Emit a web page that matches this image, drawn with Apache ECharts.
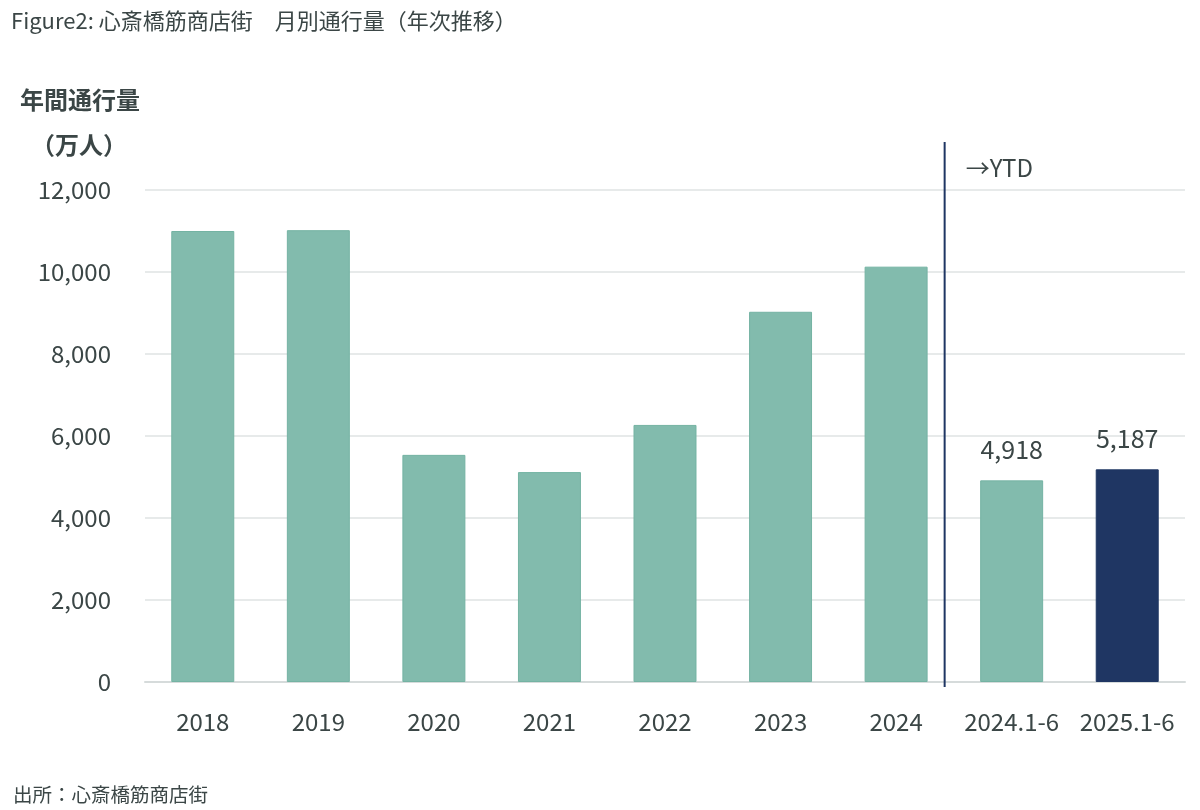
<!DOCTYPE html>
<html>
<head>
<meta charset="utf-8">
<script src="https://cdn.jsdelivr.net/npm/echarts@6/dist/echarts.min.js"></script>
<style>
html,body{margin:0;padding:0;background:#fff;}
#c{width:1200px;height:810px;}
</style>
</head>
<body>
<div id="c"></div>
<script>
const categories = ['2018','2019','2020','2021','2022','2023','2024','2024.1-6','2025.1-6'];
const values = [11000, 11020, 5540, 5120, 6270, 9030, 10130, 4918, 5187];
const labeledIndexes = [7, 8];
const highlightIndex = 8;
const yTicks = { min: 0, max: 12000, interval: 2000 };
const dividerAfterIndex = 6;
const dividerFraction = 0.42;
const dividerLabel = '→YTD';
const titleText = 'Figure2: 心斎橋筋商店街　月別通行量（年次推移）';
const yNameLine1 = '年間通行量';
const yNameLine2 = '（万人）';
const sourceText = '出所：心斎橋筋商店街';

const FONT = '"Noto Sans CJK JP", "Noto Sans", sans-serif';
const TEXT = '#3b4646';
const GREEN = '#82bbad';
const GREEN_BORDER = '#74b3a3';
const NAVY = '#1f3663';

const chart = echarts.init(document.getElementById('c'));

const barData = values.map((v, i) => {
  const item = { value: v };
  if (i === highlightIndex) {
    item.itemStyle = { color: NAVY, borderColor: NAVY };
  }
  if (labeledIndexes.indexOf(i) >= 0) {
    item.label = {
      show: true, position: 'top', distance: 18,
      fontSize: 25, color: TEXT, fontFamily: FONT,
      formatter: p => p.value.toLocaleString('en-US')
    };
  }
  return item;
});

chart.setOption({
  backgroundColor: '#fff',
  animation: false,
  textStyle: { fontFamily: FONT },
  title: [
    { text: titleText, left: 6, top: 5, textStyle: { fontSize: 22, fontWeight: 'normal', color: TEXT, fontFamily: FONT } },
    { text: yNameLine1, left: 15, top: 83, textStyle: { fontSize: 24, fontWeight: 'bold', color: TEXT, fontFamily: FONT } },
    { text: yNameLine2, left: 26, top: 128, textStyle: { fontSize: 24, fontWeight: 'bold', color: TEXT, fontFamily: FONT } },
    { text: sourceText, left: 8, top: 780, textStyle: { fontSize: 19.5, fontWeight: 'normal', color: TEXT, fontFamily: FONT } }
  ],
  grid: { left: 145, right: 15, top: 190, bottom: 128, containLabel: false },
  xAxis: {
    type: 'category',
    data: categories,
    axisLine: { lineStyle: { color: '#d6dbdb', width: 2 } },
    axisTick: { show: false },
    axisLabel: { interval: 0, fontSize: 24, color: TEXT, margin: 28, fontFamily: FONT }
  },
  yAxis: {
    type: 'value',
    min: yTicks.min, max: yTicks.max, interval: yTicks.interval,
    axisLine: { show: false },
    axisTick: { show: false },
    splitLine: { lineStyle: { color: '#dfe3e3', width: 1.5 } },
    axisLabel: { fontSize: 24, color: TEXT, margin: 34, fontFamily: FONT,
      formatter: v => v.toLocaleString('en-US') }
  },
  series: [
    {
      type: 'bar',
      data: barData,
      barWidth: '54.5%',
      itemStyle: { color: GREEN, borderColor: GREEN_BORDER, borderWidth: 1 }
    },
    {
      type: 'custom',
      z: 10,
      silent: true,
      data: [[dividerAfterIndex, yTicks.max]],
      renderItem: function (params, api) {
        const a = api.coord([dividerAfterIndex, 0]);
        const b = api.coord([dividerAfterIndex + 1, 0]);
        const top = api.coord([dividerAfterIndex, yTicks.max]);
        const x = a[0] + dividerFraction * (b[0] - a[0]);
        return {
          type: 'group',
          children: [
            { type: 'line', shape: { x1: x, y1: top[1] - 48, x2: x, y2: a[1] + 5 },
              style: { stroke: NAVY, lineWidth: 2 } },
            { type: 'text', x: x + 21, y: top[1] - 22,
              style: { text: dividerLabel, fontSize: 24, fill: TEXT, fontFamily: FONT, verticalAlign: 'middle', align: 'left' } }
          ]
        };
      }
    }
  ]
});
</script>
</body>
</html>
